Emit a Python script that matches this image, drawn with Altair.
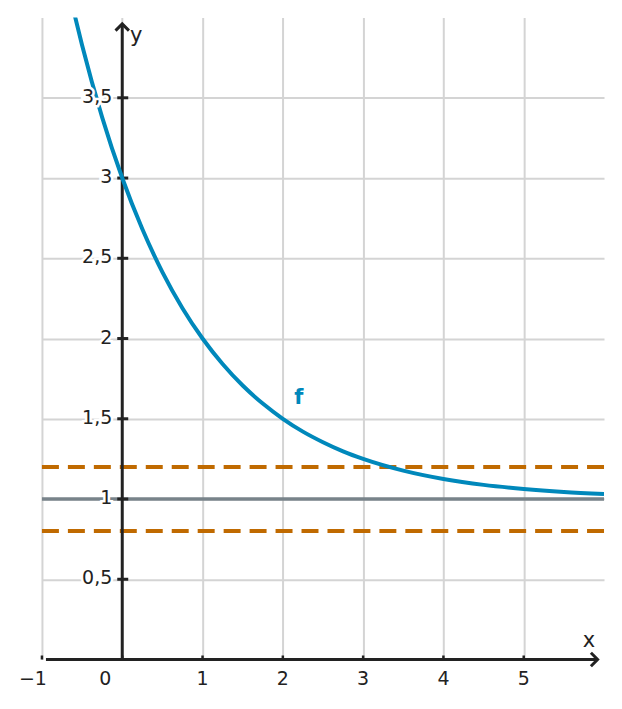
import altair as alt
import pandas as pd

# ---- data ----
curve_x = [-0.6, -0.5, -0.25, 0, 0.25, 0.5, 0.75, 1, 1.25, 1.5, 1.75, 2,
           2.25, 2.5, 2.75, 3, 3.5, 4, 4.5, 5, 5.5, 6]
curve_y = [4.031, 3.828, 3.378, 3.0, 2.682, 2.414, 2.189, 2.0, 1.841, 1.707,
           1.595, 1.5, 1.420, 1.354, 1.297, 1.25, 1.177, 1.125, 1.088, 1.0625,
           1.044, 1.031]
asymptote = [1.0]
band = [0.8, 1.2]
x_ticks = [-1, 0, 1, 2, 3, 4, 5]
x_tick_labels = ["−1", "0", "1", "2", "3", "4", "5"]
y_ticks = [0.5, 1, 1.5, 2, 2.5, 3, 3.5]
y_tick_labels = ["0,5", "1", "1,5", "2", "2,5", "3", "3,5"]
x_domain = [-1, 6]
y_domain = [0, 4]
axis_x_extent = [-0.95, 5.92]
axis_y_extent = [0, 3.96]
f_label = {"x": 2.2, "y": 1.63, "t": "f"}

FONT = "DejaVu Sans"
INK = "#222222"
BLUE = "#0088bb"
ORANGE = "#c06a00"
GREY = "#78838a"

xs = alt.Scale(domain=x_domain, nice=False, zero=False)
ys = alt.Scale(domain=y_domain, nice=False, zero=False)

curve_df = pd.DataFrame({"x": curve_x, "y": curve_y})
asym_df = pd.DataFrame({"y": asymptote})
band_df = pd.DataFrame({"y": band})
xt_df = pd.DataFrame({"x": x_ticks, "label": x_tick_labels, "y": [0] * len(x_ticks)})
yt_df = pd.DataFrame({"y": y_ticks, "label": y_tick_labels, "x": [0] * len(y_ticks)})

# grid (via axes) + asymptote
asym = alt.Chart(asym_df).mark_rule(color=GREY, strokeWidth=3.5).encode(
    y=alt.Y("y:Q", scale=ys, axis=alt.Axis(values=y_ticks, grid=True, labels=False,
                                           ticks=False, domain=False, title=None,
                                           gridColor="#d4d4d4", gridWidth=2)),
    x=alt.value(0), x2=alt.value(563)
)
gridx = alt.Chart(pd.DataFrame({"x": x_ticks})).mark_rule(opacity=0).encode(
    x=alt.X("x:Q", scale=xs, axis=alt.Axis(values=x_ticks, grid=True, labels=False,
                                           ticks=False, domain=False, title=None,
                                           gridColor="#d4d4d4", gridWidth=2))
)

dashed = alt.Chart(band_df).mark_rule(color=ORANGE, strokeWidth=4, strokeDash=[17, 9]).encode(
    y=alt.Y("y:Q", scale=ys), x=alt.value(0), x2=alt.value(563)
)

# axes lines
xaxis = alt.Chart(pd.DataFrame({"x": [axis_x_extent[0]], "x2": [axis_x_extent[1]], "y": [0]})).mark_rule(
    color=INK, strokeWidth=3).encode(x=alt.X("x:Q", scale=xs), x2="x2:Q", y=alt.Y("y:Q", scale=ys))
yaxis = alt.Chart(pd.DataFrame({"y": [axis_y_extent[0]], "y2": [axis_y_extent[1]], "x": [0]})).mark_rule(
    color=INK, strokeWidth=3).encode(y=alt.Y("y:Q", scale=ys), y2="y2:Q", x=alt.X("x:Q", scale=xs))

xarrow = alt.Chart(pd.DataFrame({"x": [axis_x_extent[1]], "y": [0]})).mark_point(
    shape="M-1,-1L0,0L-1,1", size=180, filled=False, color=INK, strokeWidth=3, opacity=1,
    strokeJoin="miter").encode(x=alt.X("x:Q", scale=xs), y=alt.Y("y:Q", scale=ys))
yarrow = alt.Chart(pd.DataFrame({"x": [0], "y": [axis_y_extent[1]]})).mark_point(
    shape="M-1,1L0,0L1,1", size=180, filled=False, color=INK, strokeWidth=3, opacity=1,
    strokeJoin="miter").encode(x=alt.X("x:Q", scale=xs), y=alt.Y("y:Q", scale=ys))

xticks = alt.Chart(xt_df).mark_rule(color=INK, strokeWidth=2.5, y2Offset=-4).encode(
    x=alt.X("x:Q", scale=xs), y=alt.Y("y:Q", scale=ys), y2="y:Q")
yticks = alt.Chart(yt_df).mark_rule(color=INK, strokeWidth=3, xOffset=-5, x2Offset=6).encode(
    y=alt.Y("y:Q", scale=ys), x=alt.X("x:Q", scale=xs), x2="x:Q")

curve = alt.Chart(curve_df).mark_line(color=BLUE, strokeWidth=4, interpolate="monotone", clip=True).encode(
    x=alt.X("x:Q", scale=xs), y=alt.Y("y:Q", scale=ys))

def labels(df, halo, **kw):
    props = dict(font=FONT, fontSize=19, **kw)
    if halo:
        props.update(stroke="white", strokeWidth=5, fill="white")
    else:
        props.update(fill=INK)
    return alt.Chart(df).mark_text(**props).encode(
        x=alt.X("x:Q", scale=xs), y=alt.Y("y:Q", scale=ys), text="label:N")

xt_main = xt_df[xt_df["x"] > 0]
xt_zero = xt_df[xt_df["x"] == 0]
xt_neg = xt_df[xt_df["x"] < 0]

text_layers = []
for halo in (True, False):
    text_layers += [
        labels(yt_df, halo, align="right", baseline="middle", dx=-10, dy=-1),
        labels(xt_main, halo, align="center", baseline="middle", dy=20),
        labels(xt_zero, halo, align="center", baseline="middle", dx=-17, dy=20),
        labels(xt_neg, halo, align="center", baseline="middle", dx=-9, dy=20),
    ]

ylab = alt.Chart(pd.DataFrame({"x": [0], "y": [y_domain[1]], "label": ["y"]})).mark_text(
    font=FONT, fontSize=21, color=INK, align="center", baseline="middle", dx=14, dy=18).encode(
    x=alt.X("x:Q", scale=xs), y=alt.Y("y:Q", scale=ys), text="label:N")
xlab = alt.Chart(pd.DataFrame({"x": [x_domain[1]], "y": [0], "label": ["x"]})).mark_text(
    font=FONT, fontSize=21, color=INK, align="center", baseline="middle", dx=-15, dy=-19).encode(
    x=alt.X("x:Q", scale=xs), y=alt.Y("y:Q", scale=ys), text="label:N")
flab = alt.Chart(pd.DataFrame({"x": [f_label["x"]], "y": [f_label["y"]], "label": [f_label["t"]]})).mark_text(
    font=FONT, fontSize=21, fontWeight="bold", color=BLUE, align="center", baseline="middle").encode(
    x=alt.X("x:Q", scale=xs), y=alt.Y("y:Q", scale=ys), text="label:N")

chart = alt.layer(
    asym, gridx, dashed, xaxis, yaxis, xticks, yticks, xarrow, yarrow, curve,
    *text_layers, ylab, xlab, flab
).properties(
    width=563, height=643,
    autosize=alt.AutoSizeParams(type="none"),
    padding={"left": 34, "top": 9, "right": 10, "bottom": 40},
    background="white",
).configure_view(stroke=None)

chart.save("out.html", embed_options={"renderer": "svg", "actions": False})
